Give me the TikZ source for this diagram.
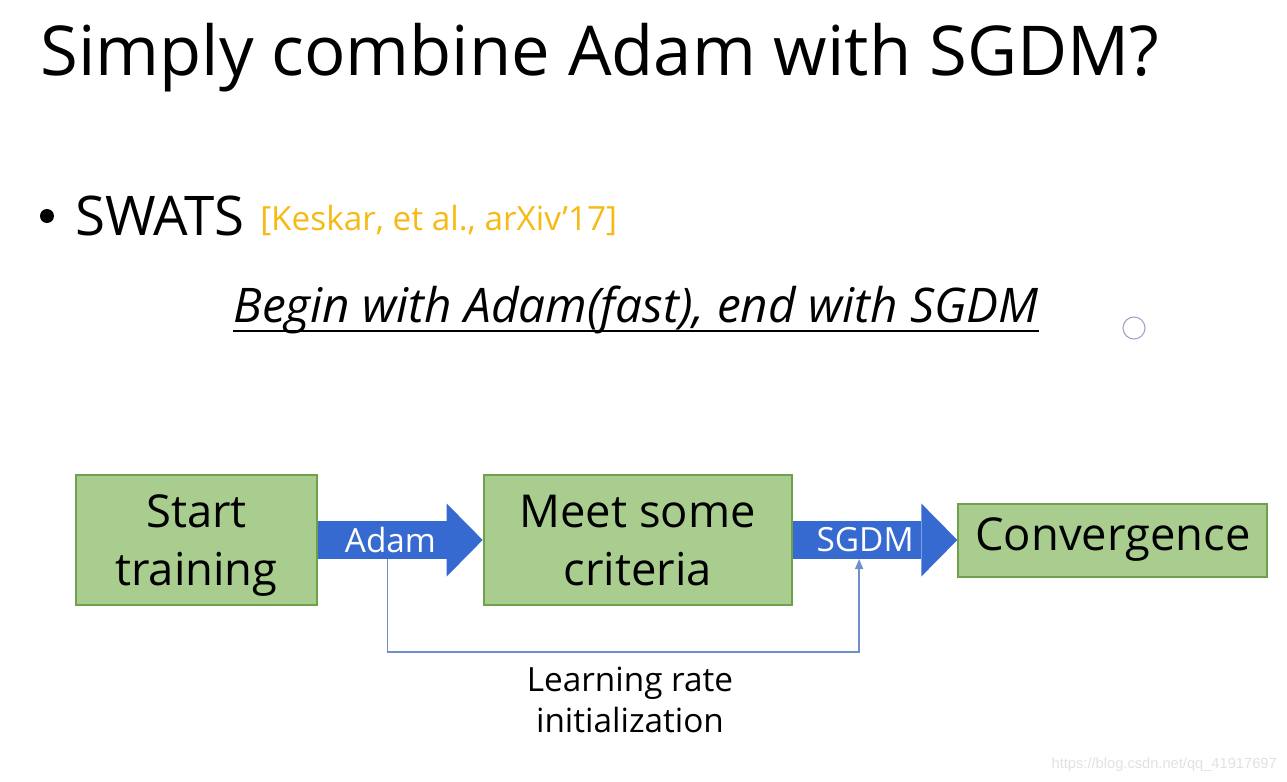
\documentclass[tikz,border=0pt]{standalone}
\usepackage{fontspec}
\setmainfont{Open Sans}
\newfontfamily\markfont{Liberation Sans}
\usepackage{xcolor}
\usetikzlibrary{arrows.meta,positioning}
\definecolor{boxfill}{RGB}{169,205,142}
\definecolor{boxedge}{RGB}{112,160,75}
\definecolor{flowblue}{RGB}{55,106,208}
\definecolor{linkblue}{RGB}{110,143,203}
\definecolor{citeorange}{RGB}{246,186,20}
\definecolor{markgray}{RGB}{225,225,225}
\definecolor{cursorgray}{RGB}{160,160,200}

\begin{document}
\begin{tikzpicture}[
x=0.75pt, y=-0.75pt,
node distance=123.5pt,
stagebox/.style={draw=boxedge, fill=boxfill, line width=1.5pt, align=center, inner sep=0pt, font=\fontsize{34}{43}\selectfont},
twoline/.style={text height=80pt, text depth=12.5pt},
flow/.style={draw=flowblue, line width=28.5pt, -{Triangle[length=27pt, width=54.75pt, line width=0pt 0]}},
flowlabel/.style={text=white, inner sep=0pt, outer sep=0pt, minimum height=28.5pt, font=\fontsize{25}{30}\selectfont},
lrline/.style={draw=linkblue, line width=1.1pt, -{Triangle[length=7.5pt, width=6pt]}}
]
\useasboundingbox (0,0) rectangle (1287,781);

% heading
\node[anchor=base west, inner sep=0pt, font=\fontsize{51.6}{60}\selectfont] (title) at (40,76) {Simply combine Adam with SGDM?};
\fill (47,216) circle[radius=5.25pt];
\node[anchor=base west, inner sep=0pt, font=\fontsize{41}{48}\selectfont] (swats) at (75,235) {SWATS};
\node[anchor=base west, inner sep=0pt, text=citeorange, font=\fontsize{25}{30}\selectfont] (cite) at (260,230) {[Keskar, et al., arXiv'17]};
\node[anchor=base, inner sep=0pt, font=\itshape\fontsize{35.8}{43}\selectfont] (motto) at (636,322) {Begin with Adam(fast), end with SGDM};
\draw[line width=1.6pt] ([yshift=2pt]motto.south west) -- ([yshift=2pt]motto.south east);

% stages
\node[stagebox, twoline, minimum width=180.75pt, minimum height=97.5pt] (start) at (196.5,540) {Start\\training};
\node[stagebox, twoline, minimum width=231pt, minimum height=97.5pt, right=of start] (meet) {Meet some\\criteria};
\node[stagebox, minimum width=231.75pt, minimum height=54.75pt, right=of meet] (conv) {Convergence};

\draw[flow] (start) -- (meet) node[pos=0.44, flowlabel] (adam) {Adam};
\draw[flow] (meet) -- (conv) node[pos=0.44, flowlabel] (sgdm) {SGDM};

\draw[lrline] ([xshift=-2.25pt]adam.south) -- ++(0,93) -| ([xshift=-4.5pt]sgdm.south);
\node[align=center, inner sep=0pt, font=\fontsize{25}{31}\selectfont] (lrtext) at (630,700) {Learning rate\\initialization};

% screen leftovers
\draw[cursorgray, line width=0.8pt] (1134,328) circle[radius=8.25pt];
\node[anchor=base east, inner sep=0pt, text=markgray, font=\markfont\fontsize{11}{13}\selectfont] (mark) at (1277,768) {https://blog.csdn.net/qq\_41917697};
\end{tikzpicture}
\end{document}
